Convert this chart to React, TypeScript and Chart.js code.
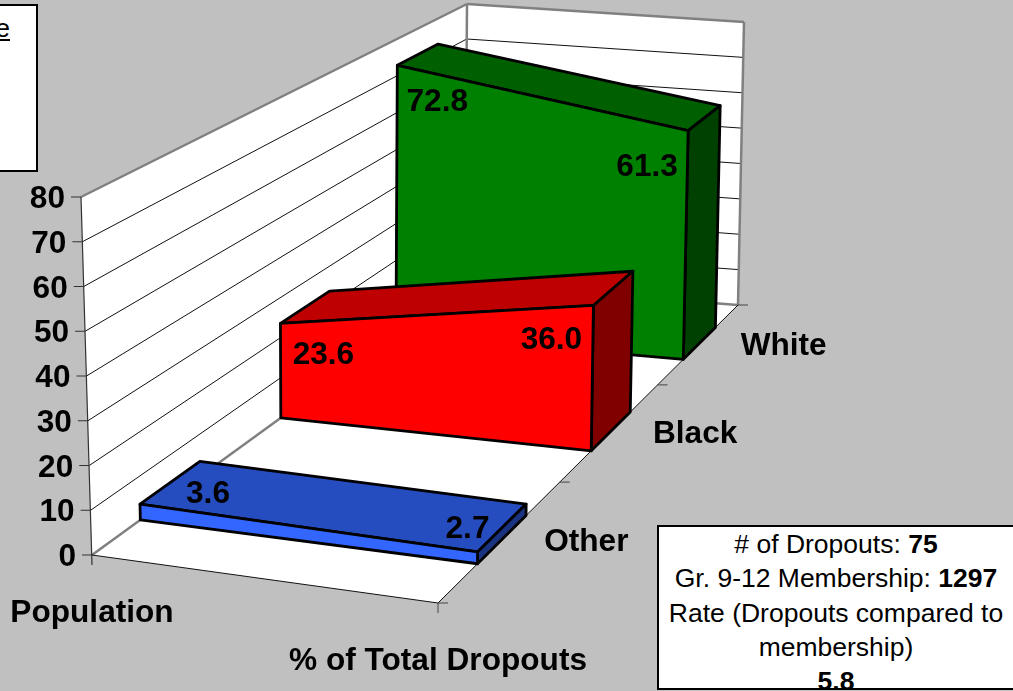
import React, { useEffect, useRef } from "react";
import { Chart, registerables } from "chart.js";

Chart.register(...registerables);

const categories = ["Population", "% of Total Dropouts"];
const rowNames = ["Other", "Black", "White"];
const otherValues = [3.6, 2.7];
const blackValues = [23.6, 36.0];
const whiteValues = [72.8, 61.3];
const yTicksMax = 80;
const yTicksStep = 10;

type Pt = [number, number];

// Perspective frame of the 3-D box: floor and top quads (front-left, front-right, back-right, back-left)
const FLOOR: Pt[] = [[92, 555], [438, 603], [738, 305], [465, 284]];
const TOP: Pt[] = [[81, 197], [435, 243], [744, 22], [467, 4]];
const DEPTH_START = 0.3;
const DEPTH_END = 0.7;
const STRETCH = 1.02;
const FONT = '"Liberation Sans", Arial, sans-serif';
const LABEL_SIZE = 31;

const FACE_COLORS: Record<string, { front: string; top: string; side: string }> = {
  Other: { front: "#3366FF", top: "#264DBF", side: "#1A3380" },
  Black: { front: "#FF0000", top: "#BF0000", side: "#800000" },
  White: { front: "#008000", top: "#006000", side: "#004000" },
};
const LABEL_OFFSETS: Record<string, [Pt, Pt]> = {
  Other: [[68, -12], [-10, -25]],
  Black: [[43, 30], [-42, 33]],
  White: [[40, 35], [-41, 34]],
};

function homography(q: Pt[]) {
  const [[x0, y0], [x1, y1], [x2, y2], [x3, y3]] = q;
  const dx1 = x1 - x2, dx2 = x3 - x2, sx = x0 - x1 + x2 - x3;
  const dy1 = y1 - y2, dy2 = y3 - y2, sy = y0 - y1 + y2 - y3;
  const den = dx1 * dy2 - dx2 * dy1;
  const g = (sx * dy2 - dx2 * sy) / den;
  const h = (dx1 * sy - sx * dy1) / den;
  const a = x1 - x0 + g * x1, b = x3 - x0 + h * x3, c = x0;
  const d = y1 - y0 + g * y1, e = y3 - y0 + h * y3, f = y0;
  return (u: number, v: number): Pt => {
    const n = g * u + h * v + 1;
    return [(a * u + b * v + c) / n, (d * u + e * v + f) / n];
  };
}
const floorMap = homography(FLOOR);
const topMap = homography(TOP);

const box3d = {
  id: "box3d",
  afterDatasetsDraw(chart: any) {
    const ctx: CanvasRenderingContext2D = chart.ctx;
    const xs = chart.scales.x;
    const ys = chart.scales.y;
    const uOf = (i: number) => (xs.getPixelForValue(i) - xs.left) / (xs.right - xs.left);
    const wOf = (val: number) => (ys.bottom - ys.getPixelForValue(val)) / (ys.bottom - ys.top);
    const P = (u: number, v: number, val: number): Pt => {
      const a = floorMap(u, v), b = topMap(u, v), w = wOf(val);
      return [a[0] + (b[0] - a[0]) * w, a[1] + (b[1] - a[1]) * w];
    };
    const line = (a: Pt, b: Pt, color: string, width: number) => {
      ctx.strokeStyle = color;
      ctx.lineWidth = width;
      ctx.beginPath();
      ctx.moveTo(a[0], a[1]);
      ctx.lineTo(b[0], b[1]);
      ctx.stroke();
    };
    const poly = (pts: Pt[], fill: string, stroke?: string, width = 2.8) => {
      ctx.beginPath();
      pts.forEach((p, i) => (i ? ctx.lineTo(p[0], p[1]) : ctx.moveTo(p[0], p[1])));
      ctx.closePath();
      ctx.fillStyle = fill;
      ctx.fill();
      if (stroke) {
        ctx.strokeStyle = stroke;
        ctx.lineWidth = width;
        ctx.lineJoin = "round";
        ctx.stroke();
      }
    };
    const text = (s: string, x: number, y: number, align: CanvasTextAlign = "center") => {
      ctx.save();
      ctx.translate(x, y + 2.5);
      ctx.scale(STRETCH, 1);
      ctx.font = `bold ${LABEL_SIZE}px ${FONT}`;
      ctx.fillStyle = "#000";
      ctx.textAlign = align;
      ctx.textBaseline = "middle";
      ctx.fillText(s, 0, 0);
      ctx.restore();
    };

    const yMax = ys.max;
    // walls and floor
    poly([P(0, 0, 0), P(0, 1, 0), P(0, 1, yMax), P(0, 0, yMax)], "#fff");
    poly([P(0, 1, 0), P(1, 1, 0), P(1, 1, yMax), P(0, 1, yMax)], "#fff");
    poly([P(0, 0, 0), P(1, 0, 0), P(1, 1, 0), P(0, 1, 0)], "#fff");

    // gridlines
    ys.ticks.forEach((t: any) => {
      if (t.value === 0 || t.value === yMax) return;
      line(P(0, 0, t.value), P(0, 1, t.value), "#111", 1);
      line(P(0, 1, t.value), P(1, 1, t.value), "#111", 1);
    });
    // wall outlines
    const gray = "#808080";
    line(P(0, 0, yMax), P(0, 1, yMax), gray, 2.5);
    line(P(0, 1, yMax), P(1, 1, yMax), gray, 2.5);
    line(P(0, 1, 0), P(0, 1, yMax), gray, 2.5);
    line(P(1, 1, 0), P(1, 1, yMax), gray, 2.5);
    line(P(0, 0, 0), P(0, 1, 0), gray, 2.5);
    line(P(0, 1, 0), P(1, 1, 0), gray, 2.5);
    // axis lines and ticks
    const bottomLeft = P(0, 0, 0);
    line(P(0, 0, yMax), [bottomLeft[0], bottomLeft[1] + 10], "#333", 1.2);
    line(P(0, 0, 0), P(1, 0, 0), "#111", 1);
    line(P(1, 0, 0), P(1, 1, 0), "#111", 1);
    const frontRight = P(1, 0, 0);
    line(frontRight, [frontRight[0], frontRight[1] + 10], "#444", 1);
    rowNames.forEach((_, i) => {
      const p = P(1, i / rowNames.length, 0);
      line(p, [p[0] + 10, p[1]], "#444", 1);
    });
    const backRight = P(1, 1, 0);
    line(backRight, [backRight[0] + 10, backRight[1]], "#444", 1);

    ys.ticks.forEach((t: any) => {
      const p = P(0, 0, t.value);
      line([p[0] - 10, p[1]], p, "#333", 1);
      text(String(t.label), p[0] - 16, p[1], "right");
    });

    // areas, back to front
    const n = rowNames.length;
    for (let r = n - 1; r >= 0; r--) {
      const name = rowNames[r];
      const ds = chart.data.datasets[r];
      const vals: number[] = ds.data;
      const c = FACE_COLORS[name];
      const v0 = (r + DEPTH_START) / n;
      const v1 = (r + DEPTH_END) / n;
      const u0 = uOf(0), u1 = uOf(1);
      poly([P(u0, v0, vals[0]), P(u1, v0, vals[1]), P(u1, v1, vals[1]), P(u0, v1, vals[0])], c.top, "#000");
      poly([P(u1, v0, 0), P(u1, v1, 0), P(u1, v1, vals[1]), P(u1, v0, vals[1])], c.side, "#000");
      poly([P(u0, v0, 0), P(u1, v0, 0), P(u1, v0, vals[1]), P(u0, v0, vals[0])], c.front, "#000");
    }
    // value labels
    for (let r = 0; r < n; r++) {
      const name = rowNames[r];
      const vals: number[] = chart.data.datasets[r].data;
      const v0 = (r + DEPTH_START) / n;
      vals.forEach((val, i) => {
        const p = P(uOf(i), v0, val);
        const o = LABEL_OFFSETS[name][i];
        text(val.toFixed(1), p[0] + o[0], p[1] + o[1]);
      });
      const rowPt = P(1, (r + 0.5) / n, 0);
      text(name, rowPt[0] + 84, rowPt[1] + 0.5);
    }
    // category labels
    chart.data.labels.forEach((lab: string, i: number) => {
      const p = P(uOf(i), 0, 0);
      text(lab, p[0], p[1] + 56);
    });
  },
};

export default function App() {
  const ref = useRef<HTMLCanvasElement>(null);
  useEffect(() => {
    const chart = new Chart(ref.current!, {
      type: "line",
      data: {
        labels: categories,
        datasets: [
          { label: rowNames[0], data: otherValues, showLine: false, pointRadius: 0 },
          { label: rowNames[1], data: blackValues, showLine: false, pointRadius: 0 },
          { label: rowNames[2], data: whiteValues, showLine: false, pointRadius: 0 },
        ],
      },
      options: {
        responsive: false,
        animation: false,
        devicePixelRatio: 1,
        layout: { padding: { top: 197, bottom: 136, left: 92, right: 575 } },
        plugins: { legend: { display: false }, tooltip: { enabled: false } },
        scales: {
          x: { display: false, offset: false },
          y: { display: false, min: 0, max: yTicksMax, ticks: { stepSize: yTicksStep } },
        },
      },
      plugins: [box3d],
    } as any);
    return () => chart.destroy();
  }, []);

  const boxLine: React.CSSProperties = { whiteSpace: "nowrap" };
  return (
    <div style={{ position: "absolute", left: 0, top: 0, width: 1013, height: 691, overflow: "hidden", background: "#C0C0C0", fontFamily: FONT }}>
      <canvas ref={ref} width={1013} height={691} style={{ position: "absolute", left: 0, top: 0 }} />
      <div style={{ position: "absolute", left: -120, top: 4, width: 154, height: 164, background: "#fff", border: "2px solid #000" }}>
        <div style={{ position: "absolute", right: 26, top: 7, fontSize: 26, lineHeight: "30px", textDecoration: "underline", color: "#000" }}>e</div>
      </div>
      <div style={{ position: "absolute", left: 657, top: 525, width: 380, height: 161, background: "#fff", border: "2px solid #000", overflow: "hidden" }}>
        <div style={{ position: "absolute", left: 0, top: 0, width: 354, fontSize: 26.5, lineHeight: "34.3px", textAlign: "center", color: "#000" }}>
          <div style={boxLine}># of Dropouts: <b>75</b></div>
          <div style={boxLine}>Gr. 9-12 Membership: <b>1297</b></div>
          <div style={boxLine}>Rate (Dropouts compared to</div>
          <div style={boxLine}>membership)</div>
          <div style={boxLine}><b>5.8</b></div>
        </div>
      </div>
    </div>
  );
}
